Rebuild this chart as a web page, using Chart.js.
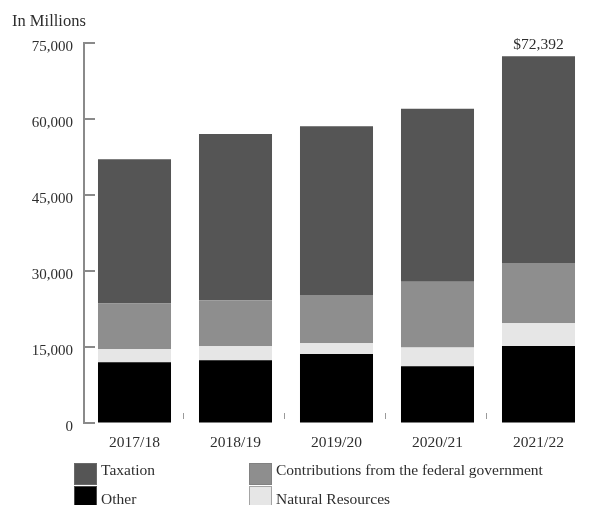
<!DOCTYPE html>
<html><head><meta charset="utf-8">
<script src="https://cdn.jsdelivr.net/npm/chart.js@4"></script>
<style>html,body{margin:0;padding:0;background:#fff;} #wrap{width:589px;height:505px;position:relative;overflow:hidden;}</style>
</head><body><div id="wrap"><canvas id="c" width="589" height="505"></canvas></div>
<script>
const categories = ['2017/18', '2018/19', '2019/20', '2020/21', '2021/22'];
const other = [12000, 12400, 13600, 11200, 15200];
const naturalResources = [2600, 2750, 2150, 3700, 4500];
const federalContributions = [9000, 9100, 9500, 13000, 11900];
const taxation = [28450, 32800, 33300, 34100, 40792];
const yTickValues = [0, 15000, 30000, 45000, 60000, 75000];
const seriesNames = ['Other', 'Natural Resources', 'Contributions from the federal government', 'Taxation'];
const seriesColors = ['#000000', '#e6e6e6', '#8e8e8e', '#555555'];
const unitLabel = 'In Millions';
const legendRows = [[3, 2], [0, 1]];
const labelledCategory = 4;

const FONT = "'Liberation Serif', 'Times New Roman', serif";
const TEXT = '#2e2e2e';

const seriesData = [other, naturalResources, federalContributions, taxation];

const extras = {
  id: 'extras',
  afterDraw(chart) {
    const ctx = chart.ctx;
    const area = chart.chartArea;
    const y = chart.scales.y, x = chart.scales.x;
    ctx.save();
    // inward y ticks
    ctx.strokeStyle = '#8a8a8a';
    ctx.lineWidth = 2;
    yTickValues.forEach(v => {
      const py = Math.round(y.getPixelForValue(v));
      ctx.beginPath();
      ctx.moveTo(area.left, py);
      ctx.lineTo(area.left + 11, py);
      ctx.stroke();
    });
    // category separator marks
    ctx.strokeStyle = '#9a9a9a';
    ctx.lineWidth = 1;
    for (let i = 0; i < categories.length - 1; i++) {
      const px = Math.round((x.getPixelForValue(i) + x.getPixelForValue(i + 1)) / 2) - 1.5;
      ctx.beginPath();
      ctx.moveTo(px, area.bottom - 10);
      ctx.lineTo(px, area.bottom - 4);
      ctx.stroke();
    }
    // unit label
    ctx.fillStyle = TEXT;
    ctx.font = '16.5px ' + FONT;
    ctx.textAlign = 'left';
    ctx.textBaseline = 'alphabetic';
    ctx.fillText(unitLabel, 12, 26);
    // total label
    const meta = chart.getDatasetMeta(seriesData.length - 1);
    const el = meta.data[labelledCategory];
    const total = seriesData.reduce((s, arr) => s + arr[labelledCategory], 0);
    ctx.font = '15.5px ' + FONT;
    ctx.textAlign = 'center';
    ctx.fillText('$' + total.toLocaleString('en-US'), el.x, el.y - 7);
    // legend
    const colX = [74, 249];
    const rowTop = [463, 486];
    const rowBase = [475, 504];
    ctx.textAlign = 'left';
    legendRows.forEach((row, r) => {
      row.forEach((di, c) => {
        const ds = chart.data.datasets[di];
        ctx.fillStyle = ds.backgroundColor;
        ctx.fillRect(colX[c], rowTop[r], 23, 22);
        ctx.strokeStyle = 'rgba(120,120,120,0.6)';
        ctx.lineWidth = 1;
        ctx.strokeRect(colX[c] + 0.5, rowTop[r] + 0.5, 22, 21);
        ctx.fillStyle = TEXT;
        ctx.font = '15.5px ' + FONT;
        ctx.fillText(ds.label, colX[c] + 27, rowBase[r]);
      });
    });
    ctx.restore();
  }
};

new Chart(document.getElementById('c'), {
  type: 'bar',
  data: {
    labels: categories,
    datasets: seriesData.map((d, i) => ({
      label: seriesNames[i],
      data: d,
      backgroundColor: seriesColors[i],
      borderWidth: 0,
      categoryPercentage: 1,
      barPercentage: 0.723
    }))
  },
  options: {
    responsive: false,
    animation: false,
    devicePixelRatio: 1,
    layout: { padding: { top: 43, right: 0, bottom: 52, left: 0 } },
    plugins: { legend: { display: false }, tooltip: { enabled: false }, title: { display: false } },
    scales: {
      x: {
        stacked: true,
        offset: true,
        grid: { display: false, drawTicks: false },
        border: { display: false },
        ticks: { color: TEXT, font: { family: FONT, size: 15.5 }, padding: 11, maxRotation: 0 },
        afterFit: s => { s.height = 30; }
      },
      y: {
        stacked: true,
        min: 0,
        max: 75000,
        afterBuildTicks: s => { s.ticks = yTickValues.map(v => ({ value: v })); },
        grid: { display: true, drawOnChartArea: false, drawTicks: false },
        border: { display: true, color: '#8a8a8a', width: 2 },
        ticks: {
          color: TEXT,
          font: { family: FONT, size: 15 },
          padding: 11,
          labelOffset: 4,
          callback: v => v.toLocaleString('en-US')
        },
        afterFit: s => { s.width = 84; }
      }
    }
  },
  plugins: [extras]
});
</script>
</body></html>
